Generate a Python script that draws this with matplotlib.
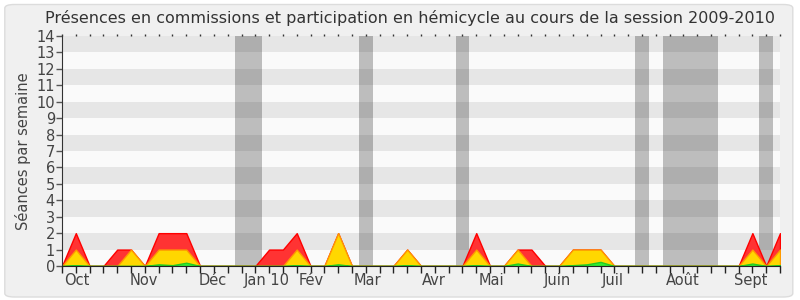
import matplotlib
matplotlib.use("Agg")
import matplotlib.pyplot as plt
from matplotlib.patches import FancyBboxPatch
import numpy as np

weeks = list(range(53))
total = [0, 2, 0, 0, 1, 1, 0, 2, 2, 2, 0, 0, 0, 0, 0, 1, 1, 2, 0, 0,
         2, 0, 0, 0, 0, 1, 0, 0, 0, 0, 2, 0, 0, 1, 1, 0, 0, 1, 1, 1,
         0, 0, 0, 0, 0, 0, 0, 0, 0, 0, 2, 0, 2]
commission = [0, 1, 0, 0, 0, 1, 0, 1, 1, 1, 0, 0, 0, 0, 0, 0, 0, 1, 0, 0,
              2, 0, 0, 0, 0, 1, 0, 0, 0, 0, 1, 0, 0, 1, 0, 0, 0, 1, 1, 1,
              0, 0, 0, 0, 0, 0, 0, 0, 0, 0, 1, 0, 1]
hemicycle = [0, 0.05, 0, 0, 0, 0, 0, 0.1, 0.05, 0.2, 0, 0, 0, 0, 0, 0, 0, 0.05, 0, 0,
             0.1, 0, 0, 0, 0, 0.05, 0, 0, 0, 0, 0.05, 0, 0, 0.15, 0, 0, 0, 0.05, 0.1, 0.25,
             0, 0, 0, 0, 0, 0, 0, 0, 0, 0, 0.15, 0, 0.05]
vacances = [13, 14, 22, 29, 42, 44, 45, 46, 47, 51]
month_labels = ["Oct", "Nov", "Déc", "Jan 10", "Fév", "Mar", "Avr", "Mai", "Juin", "Juil", "Août", "Sept"]
month_pos = [1.05, 5.9, 10.95, 14.85, 18.05, 22.1, 26.9, 31.1, 35.85, 39.9, 44.95, 49.9]

fig = plt.figure(figsize=(8, 3), dpi=100, facecolor="white")
bg = FancyBboxPatch((0.006, 0.01), 0.985, 0.975, boxstyle="round,pad=0,rounding_size=0.012",
                    transform=fig.transFigure, facecolor="#f0f0f0", edgecolor="#dcdcdc",
                    linewidth=1, zorder=-10)
fig.patches.append(bg)

ax = fig.add_axes([62/800, 34/300, 718/800, 230/300])
ax.set_facecolor("#fafafa")
ax.set_xlim(0, 52)
ax.set_ylim(0, 14)

for y0 in range(1, 14, 2):
    ax.axhspan(y0, y0 + 1, color="#e6e6e6", zorder=0, lw=0)
for v in vacances:
    ax.axvspan(v - 0.5, v + 0.5, color="black", alpha=0.245, zorder=1, lw=0)

ax.fill_between(weeks, 0, total, facecolor="#ff3333", edgecolor="#ff0000", lw=1, zorder=2)
ax.fill_between(weeks, 0, commission, facecolor="#ffd700", edgecolor="#ff9900", lw=1, zorder=3)
ax.fill_between(weeks, 0, hemicycle, facecolor="#33ee33", edgecolor="#22cc22", lw=1, zorder=4)

ax.set_yticks(range(0, 15))
ax.set_xticks(weeks)
ax.set_xticklabels([])
ax.set_xticks(month_pos, minor=True)
ax.set_xticklabels(month_labels, minor=True)
ax.tick_params(axis="x", which="major", length=5, width=1, color="#222222", direction="out")
ax.tick_params(axis="x", which="minor", length=0, pad=5, labelsize=10.5, labelcolor="#444444")
ax.tick_params(axis="y", length=4, width=1, color="#555555", labelsize=10.5, labelcolor="#444444", pad=1)

for s in ["top", "right"]:
    ax.spines[s].set_visible(False)
ax.spines["left"].set_color("#333333")
ax.spines["bottom"].set_color("#222222")
for s in ["left", "bottom"]:
    ax.spines[s].set_zorder(6)

top = ax.secondary_xaxis("top")
top.set_xticks(weeks)
top.set_xticklabels([])
top.tick_params(length=1.5, width=1, color="#333333", direction="out")
top.spines["top"].set_visible(False)

ax.set_ylabel("Séances par semaine", fontsize=10.5, color="#444444", labelpad=4)
fig.text(0.512, 0.94, "Présences en commissions et participation en hémicycle au cours de la session 2009-2010",
         ha="center", va="center", fontsize=11.5, color="#333333")

fig.savefig("out.png", dpi=100, facecolor=fig.get_facecolor())
